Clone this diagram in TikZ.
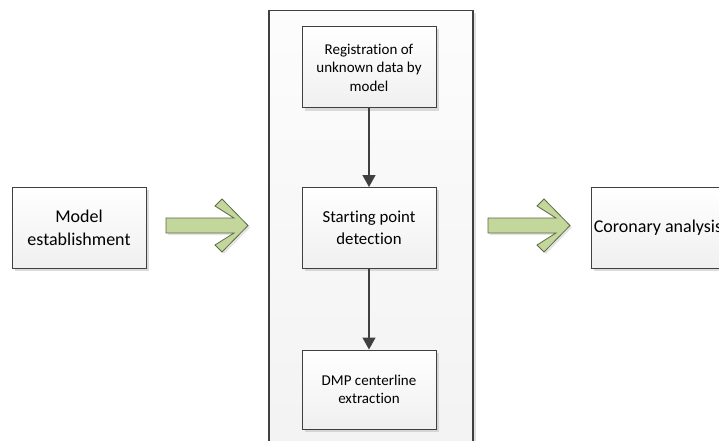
\documentclass[tikz,border=0pt]{standalone}
\usepackage{fontspec}
\setmainfont{Carlito}[Ligatures=NoCommon]
\usetikzlibrary{arrows.meta,shadows,calc}
\definecolor{boxline}{HTML}{404040}
\definecolor{arrowgreen}{HTML}{C3D69B}
\definecolor{arrowline}{HTML}{5F6B45}
\tikzset{
  boxbase/.style={draw=boxline, line width=1pt, top color=white, bottom color=gray!12,
    minimum width=134pt, minimum height=81pt, inner sep=2pt, align=center,
    drop shadow={shadow xshift=2.5pt, shadow yshift=-2.5pt, fill=gray!60, opacity=.45}},
  bigbox/.style={boxbase, font=\fontsize{18}{23}\selectfont},
  smallbox/.style={boxbase, font=\fontsize{15}{18.5}\selectfont},
  midbox/.style={boxbase, font=\fontsize{16.8}{22}\selectfont},
  panelbox/.style={draw=boxline, line width=1.3pt, top color=gray!2, bottom color=gray!10,
    minimum width=204pt, minimum height=450pt,
    drop shadow={shadow xshift=3pt, shadow yshift=-3pt, fill=gray!60, opacity=.4}},
  flowarrow/.style={draw=boxline, line width=1.5pt, -{Triangle[width=13pt,length=12pt]}},
  arrowfill/.style={fill=arrowgreen, draw=arrowline, line width=0.8pt, line join=miter,
    drop shadow={shadow xshift=2pt, shadow yshift=-2pt, fill=gray!60, opacity=.35}},
  bigarrow/.pic={
    \path[arrowfill] (0,-7.5) -- (68,-7.5) -- (49,-19.5) -- (56,-26.5) -- (82,0)
      -- (56,26.5) -- (49,19.5) -- (68,7.5) -- (0,7.5) -- cycle;
  }
}
\begin{document}
\begin{tikzpicture}[x=1pt,y=-1pt]
\useasboundingbox (0,0) rectangle (719,441);
\clip (0,0) rectangle (719,441);
\fill[white] (0,0) rectangle (719,441);
% container panel
\node[panelbox] (panel) at (371,235.5) {};
% boxes
\node[bigbox] (model) at (79,228) {Model\\establishment};
\node[smallbox] (reg) at (369,67.5) {Registration of\\unknown data by\\model};
\node[midbox] (start) at (369,228) {Starting point\\detection};
\node[smallbox, minimum height=79pt] (dmp) at (369,389.5) {DMP centerline\\extraction};
\node[bigbox] (coronary) at (658,228) {Coronary analysis};
% connectors
\draw[flowarrow] (reg.south) -- (start.north);
\draw[flowarrow] (start.south) -- (dmp.north);
% big green arrows
\pic at (166,225.5) {bigarrow};
\pic at (488,225.5) {bigarrow};
\end{tikzpicture}
\end{document}
